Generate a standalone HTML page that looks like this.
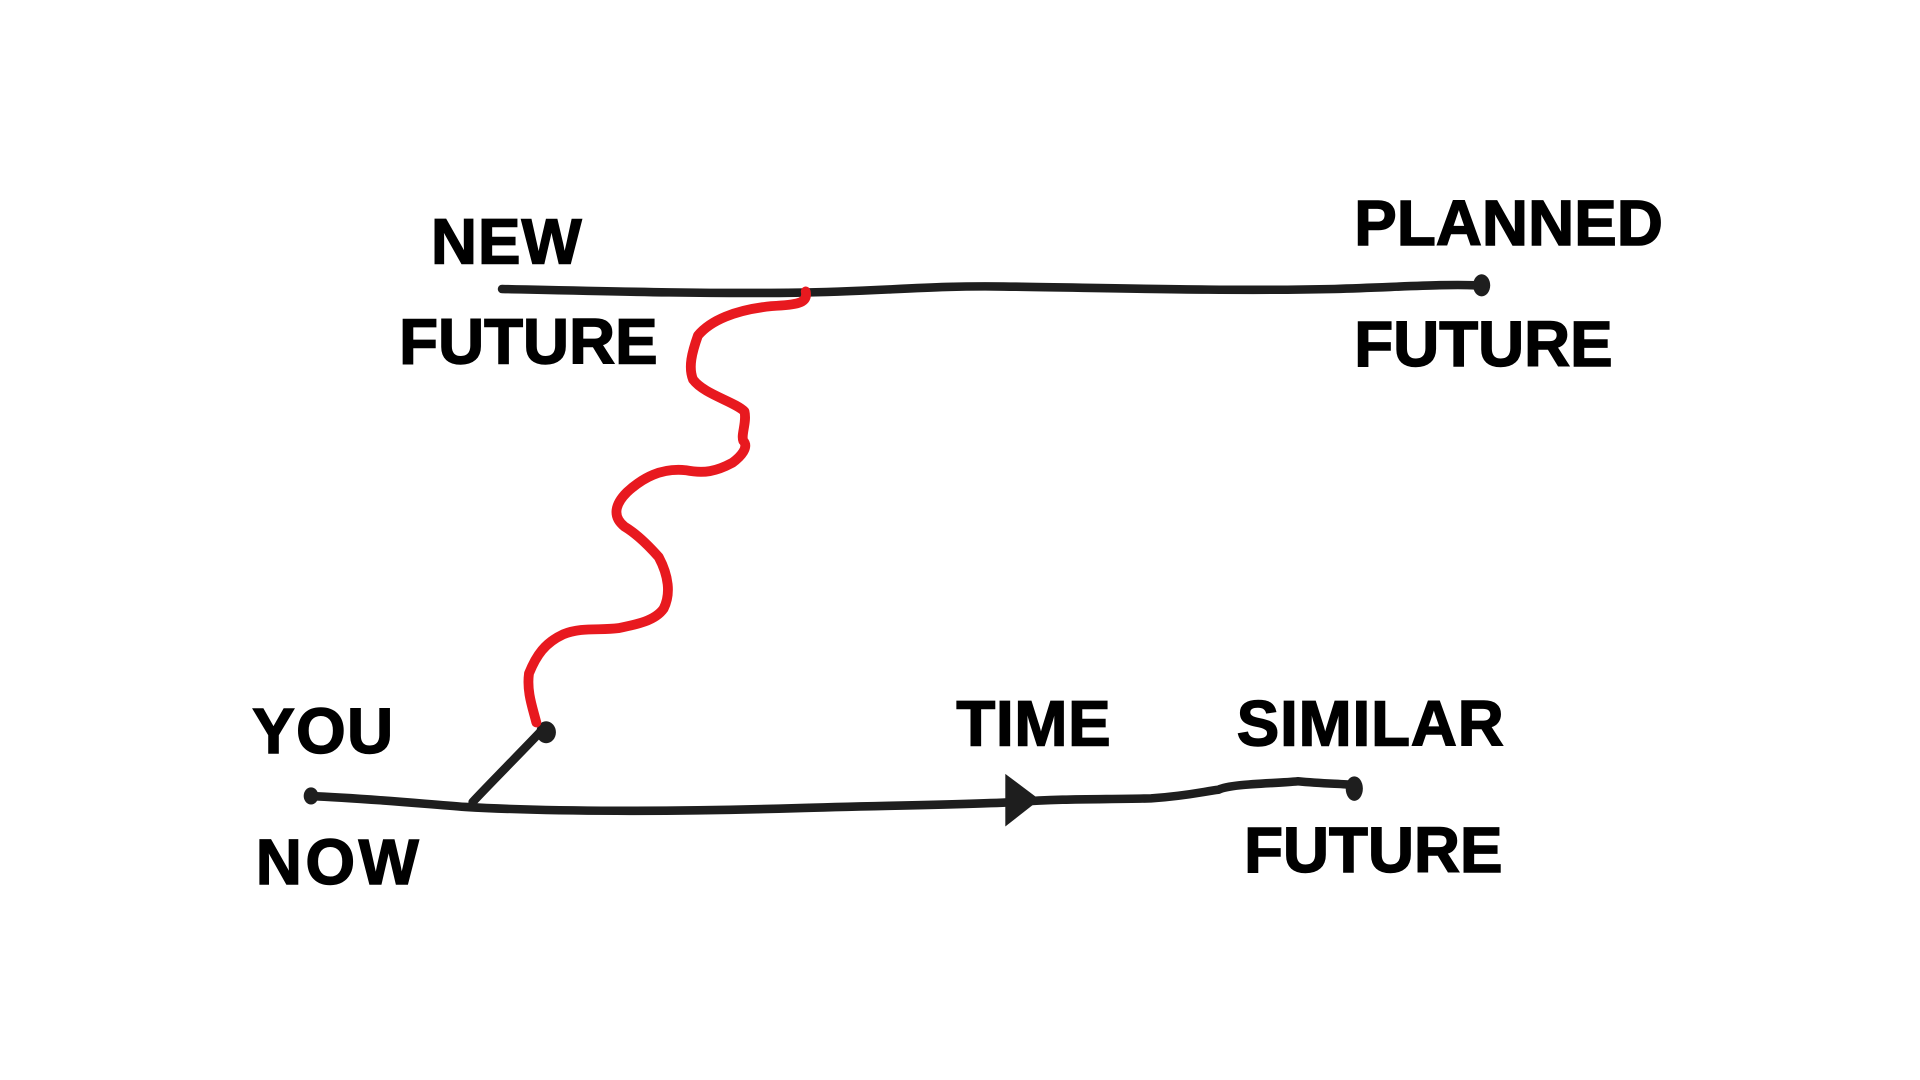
<!DOCTYPE html>
<html><head><style>html,body{margin:0;padding:0;background:#fff;width:1920px;height:1080px;overflow:hidden}</style></head>
<body>
<svg width="1920" height="1080" viewBox="0 0 1568 882" preserveAspectRatio="none" xmlns="http://www.w3.org/2000/svg">
<rect width="1568" height="882" fill="#fff"/>
<g font-family="Liberation Sans, sans-serif" font-weight="900" font-size="52" fill="#000" stroke="#000" stroke-width="1.2">
<text x="352" y="215" textLength="123" lengthAdjust="spacing">NEW</text>
<text x="326" y="297" textLength="211" lengthAdjust="spacing">FUTURE</text>
<text x="1106" y="200" textLength="252" lengthAdjust="spacing">PLANNED</text>
<text x="1106" y="299" textLength="211" lengthAdjust="spacing">FUTURE</text>
<text x="206" y="615" textLength="115" lengthAdjust="spacing">YOU</text>
<text x="209" y="722" textLength="133" lengthAdjust="spacing">NOW</text>
<text x="781" y="609" textLength="126" lengthAdjust="spacing">TIME</text>
<text x="1010" y="609" textLength="218" lengthAdjust="spacing">SIMILAR</text>
<text x="1016" y="712" textLength="211" lengthAdjust="spacing">FUTURE</text>
</g>
<g fill="none" stroke="#1e1e1e" stroke-width="7" stroke-linecap="round" stroke-linejoin="round">
<path d="M410 236 C500 238 580 240 650 239 C720 238 760 233 820 234 C900 235 1000 238 1090 236 C1150 234 1180 232 1205 233"/>
<path d="M442 597 C420 620 400 640 386 655"/>
<path d="M252 650 C300 652 340 656 380 659 C450 663 550 663 650 660 C720 658 790 657 830 655 C870 652 900 653 940 652 C970 650 985 646 995 645 C1005 640 1040 640 1060 638 C1080 640 1095 640 1105 641"/>
</g>
<ellipse cx="1210" cy="233" rx="7" ry="9" fill="#1e1e1e"/>
<ellipse cx="254" cy="650" rx="6" ry="7" fill="#1e1e1e"/>
<ellipse cx="446" cy="598" rx="8" ry="9" fill="#1e1e1e"/>
<ellipse cx="1106" cy="644" rx="7" ry="10" fill="#1e1e1e"/>
<path d="M821 632 L849 653 L821 675 Z" fill="#1e1e1e"/>
<path d="M658 238 C660 248 650 249 630 250 C600 253 580 262 570 274 C565 288 562 300 566 310 C575 322 600 328 608 336 C610 345 605 355 607 360 C612 365 605 373 598 378 C585 385 575 387 560 384 C540 382 525 390 512 402 C502 412 500 422 510 430 C520 436 530 446 538 455 C546 470 548 485 542 497 C535 507 520 510 505 513 C490 515 475 512 460 518 C445 525 438 535 432 550 C430 565 435 578 438 590" fill="none" stroke="#e8191f" stroke-width="8" stroke-linecap="round" stroke-linejoin="round"/>
</svg>
</body></html>
